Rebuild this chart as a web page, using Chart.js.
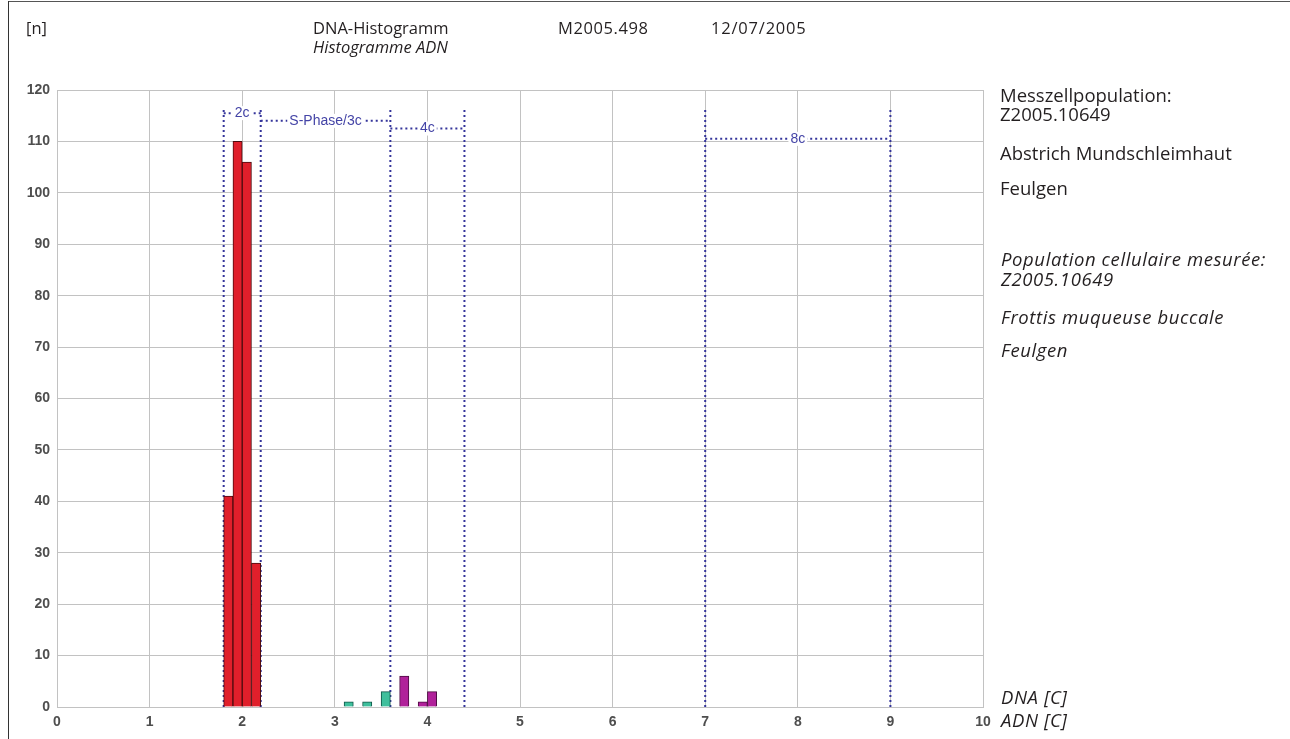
<!DOCTYPE html>
<html lang="de">
<head>
    <meta charset="UTF-8" />
    <title>DNA-Histogramm M2005.498</title>
    <script src="https://cdn.jsdelivr.net/npm/chart.js"></script>
    <style>
        body {
            margin: 0;
            padding: 0;
            background: #fff;
            width: 1290px;
            height: 739px;
            overflow: hidden;
            position: relative;
            font-family: "Open Sans", Lato, sans-serif;
            color: #231f20;
        }

        #histo {
            position: absolute;
            left: 0;
            top: 0;
        }

        .frame-top {
            position: absolute;
            left: 8px;
            top: 1px;
            width: 1282px;
            height: 1px;
            background: #555;
        }

        .frame-left {
            position: absolute;
            left: 8px;
            top: 1px;
            width: 1px;
            height: 738px;
            background: #333;
        }

        .txt {
            position: absolute;
            white-space: nowrap;
            font-size: 16.5px;
            line-height: 20px;
            z-index: 2;
        }

        .side {
            font-size: 18.5px;
            line-height: 22px;
        }

        .it {
            font-style: italic;
        }

        .side.it {
            letter-spacing: 0.6px;
        }
    </style>
</head>

<body>
    <div class="frame-top"></div>
    <div class="frame-left"></div>

    <!-- en-tête -->
    <div class="txt" style="left:26px; top:18px;">[n]</div>
    <div class="txt" style="left:313px; top:18px;">DNA-Histogramm</div>
    <div class="txt it" style="left:313px; top:37px;">Histogramme ADN</div>
    <div class="txt" style="left:558px; top:18px; letter-spacing:0.6px;">M2005.498</div>
    <div class="txt" style="left:711px; top:18px; letter-spacing:0.8px;">12/07/2005</div>

    <!-- légende à droite -->
    <div class="txt side" style="left:1000px; top:84px;">Messzellpopulation:</div>
    <div class="txt side" style="left:1000px; top:103px;">Z2005.10649</div>
    <div class="txt side" style="left:1000px; top:142px;">Abstrich Mundschleimhaut</div>
    <div class="txt side" style="left:1000px; top:177px;">Feulgen</div>
    <div class="txt side it" style="left:1001px; top:248px;">Population cellulaire mesurée:</div>
    <div class="txt side it" style="left:1001px; top:268px;">Z2005.10649</div>
    <div class="txt side it" style="left:1001px; top:306px;">Frottis muqueuse buccale</div>
    <div class="txt side it" style="left:1001px; top:339px;">Feulgen</div>
    <div class="txt side it" style="left:1001px; top:686px;">DNA [C]</div>
    <div class="txt side it" style="left:1001px; top:709px;">ADN [C]</div>

    <canvas id="histo" width="1290" height="739"></canvas>

    <script>
        // classes de 0.1 c : début de classe et effectif
        const binWidth = 0.1;
        const redBins = [1.8, 1.9, 2.0, 2.1];
        const redCounts = [41, 110, 106, 28];
        const tealBins = [3.1, 3.3, 3.5];
        const tealCounts = [1, 1, 3];
        const purpleBins = [3.7, 3.9, 4.0];
        const purpleCounts = [6, 1, 3];

        // fenêtres 2c / S-Phase / 4c / 8c
        const gateNames = ['2c', 'S-Phase/3c', '4c', '8c'];
        const gateFrom = [1.8, 2.2, 3.6, 7];
        const gateTo = [2.2, 3.6, 4.4, 9];
        const gateLevel = [115.5, 114, 112.5, 110.5];
        const gateTop = 116.5;

        const xTicks = [0, 1, 2, 3, 4, 5, 6, 7, 8, 9, 10];
        const yTicks = [0, 10, 20, 30, 40, 50, 60, 70, 80, 90, 100, 110, 120];

        const gateColor = '#34349a';

        function barSet(bins, counts, fill, edge) {
            return {
                type: 'bar',
                data: bins.map((b, i) => ({ x: b + binWidth / 2, y: counts[i] })),
                backgroundColor: fill,
                borderColor: edge,
                borderWidth: 1,
                barPercentage: 1,
                categoryPercentage: 1,
                grouped: false,
                order: 0
            };
        }

        const datasets = [
            barSet(redBins, redCounts, '#e01f2b', '#4a0b0e'),
            barSet(tealBins, tealCounts, '#3fbf9c', '#0f5547'),
            barSet(purpleBins, purpleCounts, '#b0219a', '#4d0b42')
        ];

        // lignes verticales pointillées des fenêtres
        const edges = [...new Set(gateFrom.concat(gateTo))];
        edges.forEach(v => {
            datasets.push({
                type: 'line',
                data: [{ x: v, y: 0 }, { x: v, y: gateTop }],
                borderColor: gateColor,
                borderWidth: 2,
                borderDash: [2, 3],
                pointRadius: 0,
                order: 1
            });
        });

        // lignes horizontales pointillées
        gateNames.forEach((n, i) => {
            datasets.push({
                type: 'line',
                data: [{ x: gateFrom[i], y: gateLevel[i] }, { x: gateTo[i], y: gateLevel[i] }],
                borderColor: gateColor,
                borderWidth: 2,
                borderDash: [2, 3],
                pointRadius: 0,
                order: 1
            });
        });

        const gateLabels = {
            id: 'gateLabels',
            afterDatasetsDraw(chart) {
                const { ctx, scales: { x, y } } = chart;
                ctx.save();
                ctx.font = '14px "Liberation Sans", Arial, sans-serif';
                ctx.textAlign = 'center';
                ctx.textBaseline = 'middle';
                gateNames.forEach((name, i) => {
                    const cx = x.getPixelForValue((gateFrom[i] + gateTo[i]) / 2);
                    const cy = y.getPixelForValue(gateLevel[i]);
                    const w = ctx.measureText(name).width + 4;
                    ctx.fillStyle = '#fff';
                    ctx.fillRect(cx - w / 2, cy - 7, w, 14);
                    ctx.fillStyle = '#4444a6';
                    ctx.fillText(name, cx, cy);
                });
                ctx.restore();
            }
        };

        const tickFont = { family: '"Liberation Sans", Arial, sans-serif', size: 14, weight: 'bold' };

        new Chart(document.getElementById('histo').getContext('2d'), {
            type: 'bar',
            data: { datasets: datasets },
            options: {
                responsive: false,
                animation: false,
                layout: { padding: { left: 10, right: 307, top: 90, bottom: 10 } },
                plugins: {
                    legend: { display: false },
                    tooltip: { enabled: false }
                },
                scales: {
                    x: {
                        type: 'linear',
                        min: 0,
                        max: 10,
                        offset: false,
                        afterBuildTicks: s => { s.ticks = xTicks.map(v => ({ value: v })); },
                        afterFit: s => { s.height = 22; },
                        grid: { color: '#c2c2c2', lineWidth: 1, drawTicks: false, offset: false },
                        border: { color: '#c2c2c2' },
                        ticks: { color: '#4e4e4e', font: tickFont, padding: 7, maxRotation: 0 }
                    },
                    y: {
                        min: 0,
                        max: 120,
                        afterBuildTicks: s => { s.ticks = yTicks.map(v => ({ value: v })); },
                        afterFit: s => { s.width = 47; },
                        grid: { color: '#c2c2c2', lineWidth: 1, drawTicks: false },
                        border: { color: '#c2c2c2' },
                        ticks: { color: '#4e4e4e', font: tickFont, padding: 7 }
                    }
                }
            },
            plugins: [gateLabels]
        });
    </script>
</body>

</html>
